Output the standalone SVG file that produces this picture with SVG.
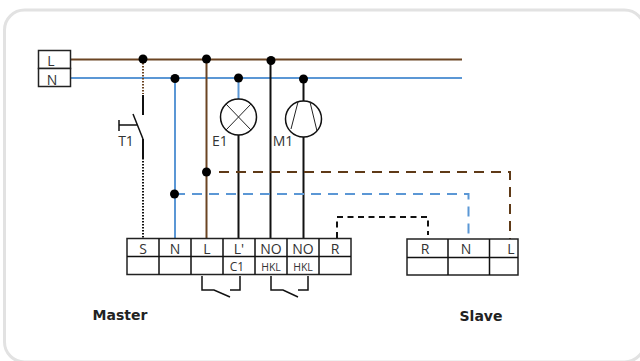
<svg xmlns="http://www.w3.org/2000/svg" width="640" height="361" viewBox="0 0 640 361">
<style>
.w{fill:none;stroke-linecap:butt}
.k{stroke:#111;stroke-width:2}
.br{stroke:#6b4423;stroke-width:2}
.bl{stroke:#5b97d5;stroke-width:2}
.db{stroke:#5f3a17}
.bx{fill:#fff;stroke:#222;stroke-width:1.5}
.ln{fill:none;stroke:#111;stroke-width:1.500}
.th{fill:none;stroke:#222;stroke-width:1}
.t{font-family:"Open Sans","Liberation Sans",sans-serif;font-size:14px;fill:#333;text-anchor:middle}
.s{font-size:10.500px}
.b{font-family:"DejaVu Sans","Liberation Sans",sans-serif;font-size:14px;font-weight:700;fill:#222;text-anchor:middle}
circle.d{fill:#000}
</style>
<rect x="4.500" y="10" width="640" height="352" rx="20" fill="#fff" stroke="#e2e2e2" stroke-width="3"/>
<g id="connectors">
<path class="w br" d="M71 59.500H462"/>
<path class="w bl" d="M71 78H462"/>
<path class="w br" stroke-dasharray="1.500 1.500" d="M143 60V94"/>
<path class="w k" d="M143 95V115"/>
<path class="w k" d="M143 139V158"/>
<path class="w k" stroke-dasharray="1.500 1.500" d="M143 158V238"/>
<path class="w bl" d="M175 78V238"/>
<path class="w br" d="M206.500 60V238"/>
<path class="w bl" d="M238.500 78V100"/>
<path class="w k" d="M238.500 134V238"/>
<path class="w k" d="M270.500 60V238"/>
<path class="w k" d="M303.500 78V101"/>
<path class="w k" d="M303.500 137V238"/>
<path class="w br db" stroke-dasharray="10 7" d="M219 172H510V239"/>
<path class="w bl" stroke-dasharray="10 7" d="M175 194H468.500V239"/>
<path class="w k" stroke-dasharray="6 4.500" d="M337 238V217H428V235"/>
<path class="ln" d="M202 276V290H214L230 297M230 290H240V276"/>
<path class="ln" d="M271 276V290H283L298 297M298 290H308V276"/>
</g>
<g id="dots">
<circle class="d" cx="143" cy="59" r="4.500"/><circle class="d" cx="206.500" cy="59" r="4.500"/><circle class="d" cx="271" cy="60.500" r="4.500"/>
<circle class="d" cx="175" cy="78.500" r="4.500"/><circle class="d" cx="238.500" cy="78" r="4.500"/><circle class="d" cx="303.500" cy="79" r="4.500"/>
<circle class="d" cx="206.500" cy="172" r="4.500"/><circle class="d" cx="174.500" cy="194" r="4.500"/>
</g>
<g id="supply">
<rect class="bx" x="38.500" y="50.500" width="32" height="18"/><rect class="bx" x="38.500" y="68.500" width="32" height="18"/>
<text class="t" x="51" y="66">L</text><text class="t" x="52" y="85">N</text>
</g>
<g id="T1">
<path class="ln" d="M119 120V131M119 125H138M133 114L143 139"/>
<text class="t" x="126" y="146">T1</text>
</g>
<g id="E1">
<circle cx="238.500" cy="117" r="18" fill="#fff" stroke="#111" stroke-width="1.500"/>
<path class="th" d="M226 104L251 130M251 104L226 130"/>
<text class="t" x="220" y="146">E1</text>
</g>
<g id="M1">
<circle cx="303.500" cy="119" r="18" fill="#fff" stroke="#111" stroke-width="1.500"/>
<path class="th" d="M298 102L291 129M310 102L317 131"/>
<text class="t" x="283" y="146">M1</text>
</g>
<g id="master">
<rect class="bx" x="127" y="238.500" width="224" height="36"/>
<path class="ln" d="M127 256.500H351M159 238.500V274.500M191 238.500V274.500M223 238.500V274.500M255 238.500V274.500M287 238.500V274.500M319 238.500V274.500"/>
<text class="t" x="143" y="254">S</text><text class="t" x="175" y="254">N</text><text class="t" x="207" y="254">L</text><text class="t" x="239" y="254">L'</text><text class="t" x="271" y="254">NO</text><text class="t" x="303" y="254">NO</text><text class="t" x="335" y="254">R</text>
<text class="t" x="237" y="271" style="font-size:12px">C1</text><text class="t s" x="271" y="270.500">HKL</text><text class="t s" x="303" y="270.500">HKL</text>
<text class="b" x="120" y="320">Master</text>
</g>
<g id="slave">
<rect class="bx" x="407" y="239" width="111" height="36"/>
<path class="ln" d="M407 257.500H518M448 239V275M489.500 239V275"/>
<text class="t" x="425" y="254">R</text><text class="t" x="466" y="254">N</text><text class="t" x="511" y="254">L</text>
<text class="b" x="481" y="321">Slave</text>
</g>
</svg>
